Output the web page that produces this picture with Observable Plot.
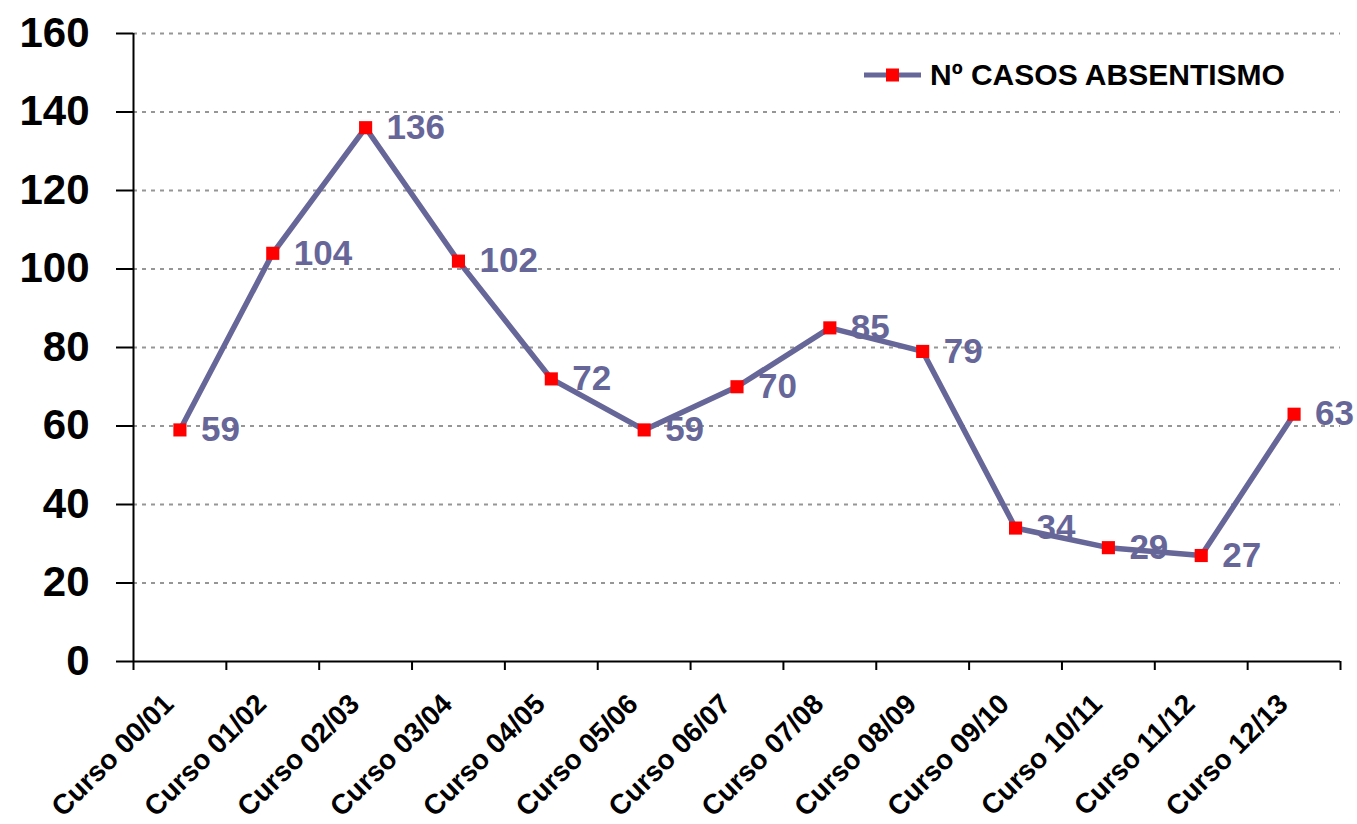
<!DOCTYPE html>
<html><head><meta charset="utf-8">
<script src="https://cdn.jsdelivr.net/npm/d3@7"></script>
<script src="https://cdn.jsdelivr.net/npm/@observablehq/plot@0.6"></script>
<style>
body{margin:0;background:#fff;font-family:"Liberation Sans",Arial,sans-serif;}
#wrap{position:relative;width:1357px;height:824px;}
#legend{position:absolute;left:864px;top:58px;height:34px;display:flex;align-items:center;font-weight:bold;font-size:30px;color:#000;}
#legend svg{margin-right:9px;}
</style></head><body><div id="wrap"></div>
<script>
const categories = ["Curso 00/01","Curso 01/02","Curso 02/03","Curso 03/04","Curso 04/05","Curso 05/06","Curso 06/07","Curso 07/08","Curso 08/09","Curso 09/10","Curso 10/11","Curso 11/12","Curso 12/13"];
const values = [59,104,136,102,72,59,70,85,79,34,29,27,63];
const yTicks = [0,20,40,60,80,100,120,140,160];
const seriesName = "Nº CASOS ABSENTISMO";

const lineColor = "#666699";
const markerColor = "#ff0000";
const font = "'Liberation Sans', Arial, sans-serif";

const data = categories.map((c, i) => ({i, c, v: values[i]}));
const n = categories.length;
const boundaries = d3.range(-0.5, n, 1);

const chart = Plot.plot({
  width: 1357, height: 824,
  marginLeft: 133, marginRight: 17, marginTop: 33, marginBottom: 163,
  style: {fontFamily: font, background: "white", overflow: "visible"},
  x: {type: "linear", domain: [-0.5, n - 0.5], axis: null},
  y: {domain: [0, 160], axis: null},
  marks: [
    Plot.ruleY(yTicks.filter(d => d > 0), {stroke: "#969696", strokeWidth: 2, strokeDasharray: "4,5"}),
    Plot.axisY({ticks: yTicks, label: null, tickSize: 17, tickPadding: 27, fontSize: 42, fontWeight: "bold", color: "black", strokeWidth: 2, tickFormat: d => d}),
    Plot.axisX({ticks: boundaries, label: null, tickSize: 9, tickFormat: () => null, color: "black", strokeWidth: 2}),
    Plot.axisX({ticks: d3.range(n), label: null, tickSize: 0, tickPadding: 30, dx: -11, dy: 8, tickRotate: -45, textAnchor: "end", fontSize: 28, fontWeight: "bold", color: "black", tickFormat: i => categories[i]}),
    Plot.ruleX([-0.5], {stroke: "black", strokeWidth: 2}),
    Plot.ruleY([0], {stroke: "black", strokeWidth: 2}),
    Plot.line(data, {x: "i", y: "v", stroke: lineColor, strokeWidth: 5.5}),
    Plot.text(data, {x: "i", y: "v", text: d => String(d.v), dx: 21, textAnchor: "start", fill: lineColor, fontSize: 35, fontWeight: "bold"}),
    Plot.dot(data, {x: "i", y: "v", symbol: "square", r: 7.4, fill: markerColor, stroke: "none"})
  ]
});
const wrap = document.getElementById("wrap");
wrap.appendChild(chart);
const legend = document.createElement("div");
legend.id = "legend";
legend.innerHTML = `<svg width="57" height="14"><line x1="0" y1="7" x2="57" y2="7" stroke="${lineColor}" stroke-width="5"/><rect x="22" y="0.5" width="13" height="13" fill="${markerColor}"/></svg><span>${seriesName}</span>`;
wrap.appendChild(legend);
</script></body></html>
